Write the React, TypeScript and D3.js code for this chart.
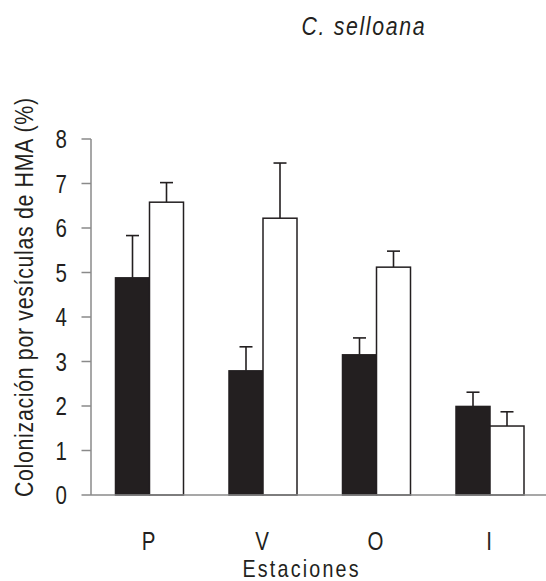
import React from "react";
import * as d3 from "d3";

const categories = ["P", "V", "O", "I"];
const seriesDark = [4.88, 2.79, 3.15, 1.99];
const seriesDarkErr = [0.95, 0.54, 0.38, 0.32];
const seriesLight = [6.58, 6.22, 5.12, 1.55];
const seriesLightErr = [0.44, 1.24, 0.36, 0.32];
const yTicks = [0, 1, 2, 3, 4, 5, 6, 7, 8];

const title = "C. selloana";
const yLabel = "Colonización  por  vesículas de HMA (%)";
const xLabel = "Estaciones";

const W = 546;
const H = 581;
const FONT = "'Liberation Sans', Arial, Helvetica, sans-serif";
const INK = "#231f20";
const AXIS = "#8a8a8a";
const SX = 0.82; // horizontal condensing to mimic a narrow typeface

export default function App() {
  const y = d3.scaleLinear().domain([0, 8]).range([495, 139]);
  const x = d3.scaleBand<string>().domain(categories).range([92.75, 546.75]).padding(0);
  const barW = 34;
  const capW = 13;
  const axisX = 91;

  const series = [
    { vals: seriesDark, errs: seriesDarkErr, fill: INK, offset: -barW },
    { vals: seriesLight, errs: seriesLightErr, fill: "#ffffff", offset: 0 },
  ];

  return (
    <svg
      width={W}
      height={H}
      style={{ position: "absolute", left: 0, top: 0, background: "#fff" }}
    >
      <rect x={0} y={0} width={W} height={H} fill="#fff" />
      {/* title */}
      <text
        transform={`translate(363, 35) scale(${SX},1)`}
        textAnchor="middle"
        fontFamily={FONT}
        fontStyle="italic"
        fontSize={26}
        fill={INK}
        textLength={123 / SX}
        lengthAdjust="spacing"
      >
        {title}
      </text>

      {/* y axis */}
      <line x1={axisX} x2={axisX} y1={y(8)} y2={y(0)} stroke={AXIS} strokeWidth={1.5} />
      {yTicks.map((t) => (
        <g key={t}>
          <line x1={axisX - 9.5} x2={axisX} y1={y(t)} y2={y(t)} stroke={AXIS} strokeWidth={1.5} />
          <text
            transform={`translate(67, ${y(t)}) scale(${SX},1)`}
            dy="0.36em"
            textAnchor="end"
            fontFamily={FONT}
            fontSize={25}
            fill={INK}
          >
            {t}
          </text>
        </g>
      ))}

      {/* bars */}
      {series.map((s, si) =>
        categories.map((c, i) => {
          const cx = (x(c) as number) + x.bandwidth() / 2;
          const x0 = cx + s.offset;
          const top = y(s.vals[i]);
          const errTop = y(s.vals[i] + s.errs[i]);
          const mid = x0 + barW / 2;
          return (
            <g key={`${si}-${c}`}>
              <line x1={mid} x2={mid} y1={top} y2={errTop} stroke={INK} strokeWidth={1.6} />
              <line x1={mid - capW / 2} x2={mid + capW / 2} y1={errTop} y2={errTop} stroke={INK} strokeWidth={1.6} />
              <rect
                x={x0}
                y={top}
                width={barW}
                height={y(0) - top}
                fill={s.fill}
                stroke={INK}
                strokeWidth={1.5}
              />
            </g>
          );
        })
      )}

      {/* x axis */}
      <line x1={axisX} x2={W} y1={y(0)} y2={y(0)} stroke={AXIS} strokeWidth={1.5} />
      {categories.map((c) => (
        <text
          key={c}
          transform={`translate(${(x(c) as number) + x.bandwidth() / 2 - 1}, 550) scale(${SX},1)`}
          textAnchor="middle"
          fontFamily={FONT}
          fontSize={25}
          fill={INK}
        >
          {c}
        </text>
      ))}
      <text
        transform={`translate(300.5, 577) scale(${SX},1)`}
        textAnchor="middle"
        fontFamily={FONT}
        fontSize={24}
        fill={INK}
        textLength={116 / SX}
        lengthAdjust="spacing"
      >
        {xLabel}
      </text>

      {/* y label */}
      <text
        transform={`translate(33, 297.5) rotate(-90) scale(${SX},1)`}
        textAnchor="middle"
        fontFamily={FONT}
        fontSize={26}
        fill={INK}
        textLength={399 / SX}
        lengthAdjust="spacing"
      >
        {yLabel}
      </text>
    </svg>
  );
}
